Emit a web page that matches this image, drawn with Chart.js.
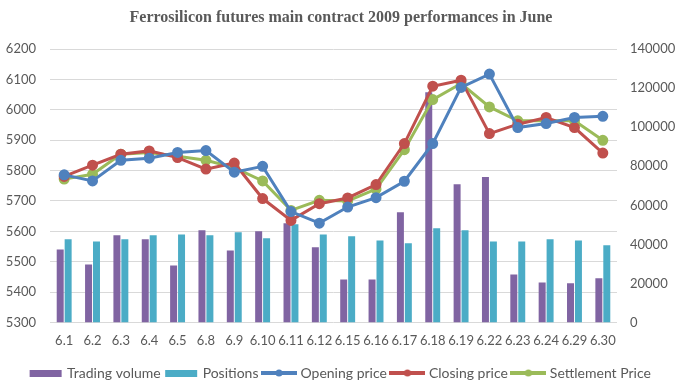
<!DOCTYPE html>
<html>
<head>
<meta charset="utf-8">
<script src="https://cdn.jsdelivr.net/npm/chart.js@4/dist/chart.umd.min.js"></script>
<style>
  html, body { margin: 0; padding: 0; background: #fff; }
  #wrap { width: 682px; height: 392px; }
</style>
</head>
<body>
<div id="wrap"><canvas id="futuresChart" width="682" height="392"></canvas></div>
<script>
// trading days in June 2009
const days = ['6.1', '6.2', '6.3', '6.4', '6.5', '6.8', '6.9', '6.10', '6.11', '6.12',
  '6.15', '6.16', '6.17', '6.18', '6.19', '6.22', '6.23', '6.24', '6.29', '6.30'];

const tradingVolume = [37400, 29700, 44600, 42600, 29200, 47200, 36900, 46700, 50800, 38500,
  22000, 22000, 56400, 118000, 70800, 74500, 24600, 20500, 20000, 22600];
const positions = [42600, 41500, 42600, 44600, 45100, 44600, 46200, 43100, 50300, 45100,
  44100, 42000, 40500, 48200, 47200, 41500, 41500, 42600, 42000, 39500];

const openingPrice = [5786, 5766, 5834, 5841, 5860, 5866, 5795, 5814, 5665, 5627,
  5680, 5711, 5765, 5889, 6074, 6118, 5942, 5955, 5975, 5979];
const closingPrice = [5781, 5818, 5854, 5865, 5843, 5805, 5825, 5708, 5636, 5691,
  5710, 5754, 5889, 6078, 6098, 5922, 5953, 5975, 5942, 5858];
const settlementPrice = [5772, 5788, 5854, 5860, 5847, 5834, 5810, 5766, 5669, 5702,
  5700, 5739, 5869, 6034, 6087, 6010, 5964, 5964, 5964, 5900];

const priceTicks = [5300, 6200, 100];
const volumeTicks = [0, 140000, 20000];

const purple = '#8064A2', teal = '#4BACC6', blue = '#4F81BD', red = '#C0504D', green = '#9BBB59';
const grey = '#595959';
const sans = 'Lato, "Liberation Sans", sans-serif';

// legend swatches like the office ones
function swatch(color, isLine) {
  const c = document.createElement('canvas');
  c.width = 36; c.height = 10;
  const g = c.getContext('2d');
  g.fillStyle = color;
  g.strokeStyle = color;
  if (isLine) {
    g.lineWidth = 4;
    g.beginPath(); g.moveTo(0, 5); g.lineTo(36, 5); g.stroke();
    g.beginPath(); g.arc(18, 5, 3.5, 0, Math.PI * 2); g.fill();
  } else {
    g.fillRect(2, 2, 32, 7);
  }
  return c;
}

function lineSet(label, data, color) {
  return {
    type: 'line', label: label, data: data, yAxisID: 'yPrice',
    borderColor: color, backgroundColor: color, borderWidth: 3,
    pointRadius: 4, pointHoverRadius: 4, pointBackgroundColor: color, pointBorderColor: color,
    tension: 0, order: 1, legendSwatch: swatch(color, true)
  };
}

const plain = function (v) { return String(v); };

const ctx = document.getElementById('futuresChart').getContext('2d');
new Chart(ctx, {
  data: {
    labels: days,
    datasets: [
      { type: 'bar', label: 'Trading volume', data: tradingVolume, yAxisID: 'yVol',
        backgroundColor: purple, barPercentage: 0.88, categoryPercentage: 0.56, order: 2,
        legendSwatch: swatch(purple, false) },
      { type: 'bar', label: 'Positions', data: positions, yAxisID: 'yVol',
        backgroundColor: teal, barPercentage: 0.88, categoryPercentage: 0.56, order: 2,
        legendSwatch: swatch(teal, false) },
      lineSet('Opening price', openingPrice, blue),
      lineSet('Closing price', closingPrice, red),
      lineSet('Settlement Price', settlementPrice, green)
    ]
  },
  options: {
    responsive: false,
    animation: false,
    layout: { padding: { top: 4, left: 0, right: 0, bottom: 2 } },
    plugins: {
      title: {
        display: true,
        text: 'Ferrosilicon futures main contract 2009 performances in June',
        color: grey,
        font: { family: '"Liberation Serif", "Times New Roman", serif', size: 16, weight: 'bold' },
        padding: { top: 4, bottom: 22 }
      },
      legend: {
        position: 'bottom',
        labels: {
          color: grey,
          font: { family: sans, size: 14 },
          usePointStyle: true,
          pointStyleWidth: 29,
          boxHeight: 10,
          padding: 6,
          generateLabels: function (chart) {
            return chart.data.datasets.map(function (ds, i) {
              return { text: ds.label, pointStyle: ds.legendSwatch, fontColor: grey,
                fillStyle: ds.backgroundColor, strokeStyle: ds.backgroundColor,
                lineWidth: 0, datasetIndex: i, hidden: false };
            });
          }
        }
      },
      tooltip: { enabled: false }
    },
    scales: {
      x: {
        grid: { display: false },
        border: { display: false },
        ticks: { color: grey, autoSkip: false, maxRotation: 0, minRotation: 0, padding: 3,
          font: { family: sans, size: 13 } },
        afterFit: function (s) { s.height += 8; }
      },
      yPrice: {
        position: 'left',
        min: priceTicks[0], max: priceTicks[1],
        ticks: { stepSize: priceTicks[2], color: grey, padding: 14, callback: plain,
          font: { family: sans, size: 13 } },
        grid: { color: '#D9D9D9', lineWidth: 1, drawTicks: false },
        border: { display: false },
        afterFit: function (s) { s.width = 50; }
      },
      yVol: {
        position: 'right',
        min: volumeTicks[0], max: volumeTicks[1],
        ticks: { stepSize: volumeTicks[2], color: grey, padding: 13, callback: plain,
          font: { family: sans, size: 13 } },
        grid: { display: false, drawTicks: false },
        border: { display: false },
        afterFit: function (s) { s.width = 65; }
      }
    }
  }
});
</script>
</body>
</html>
